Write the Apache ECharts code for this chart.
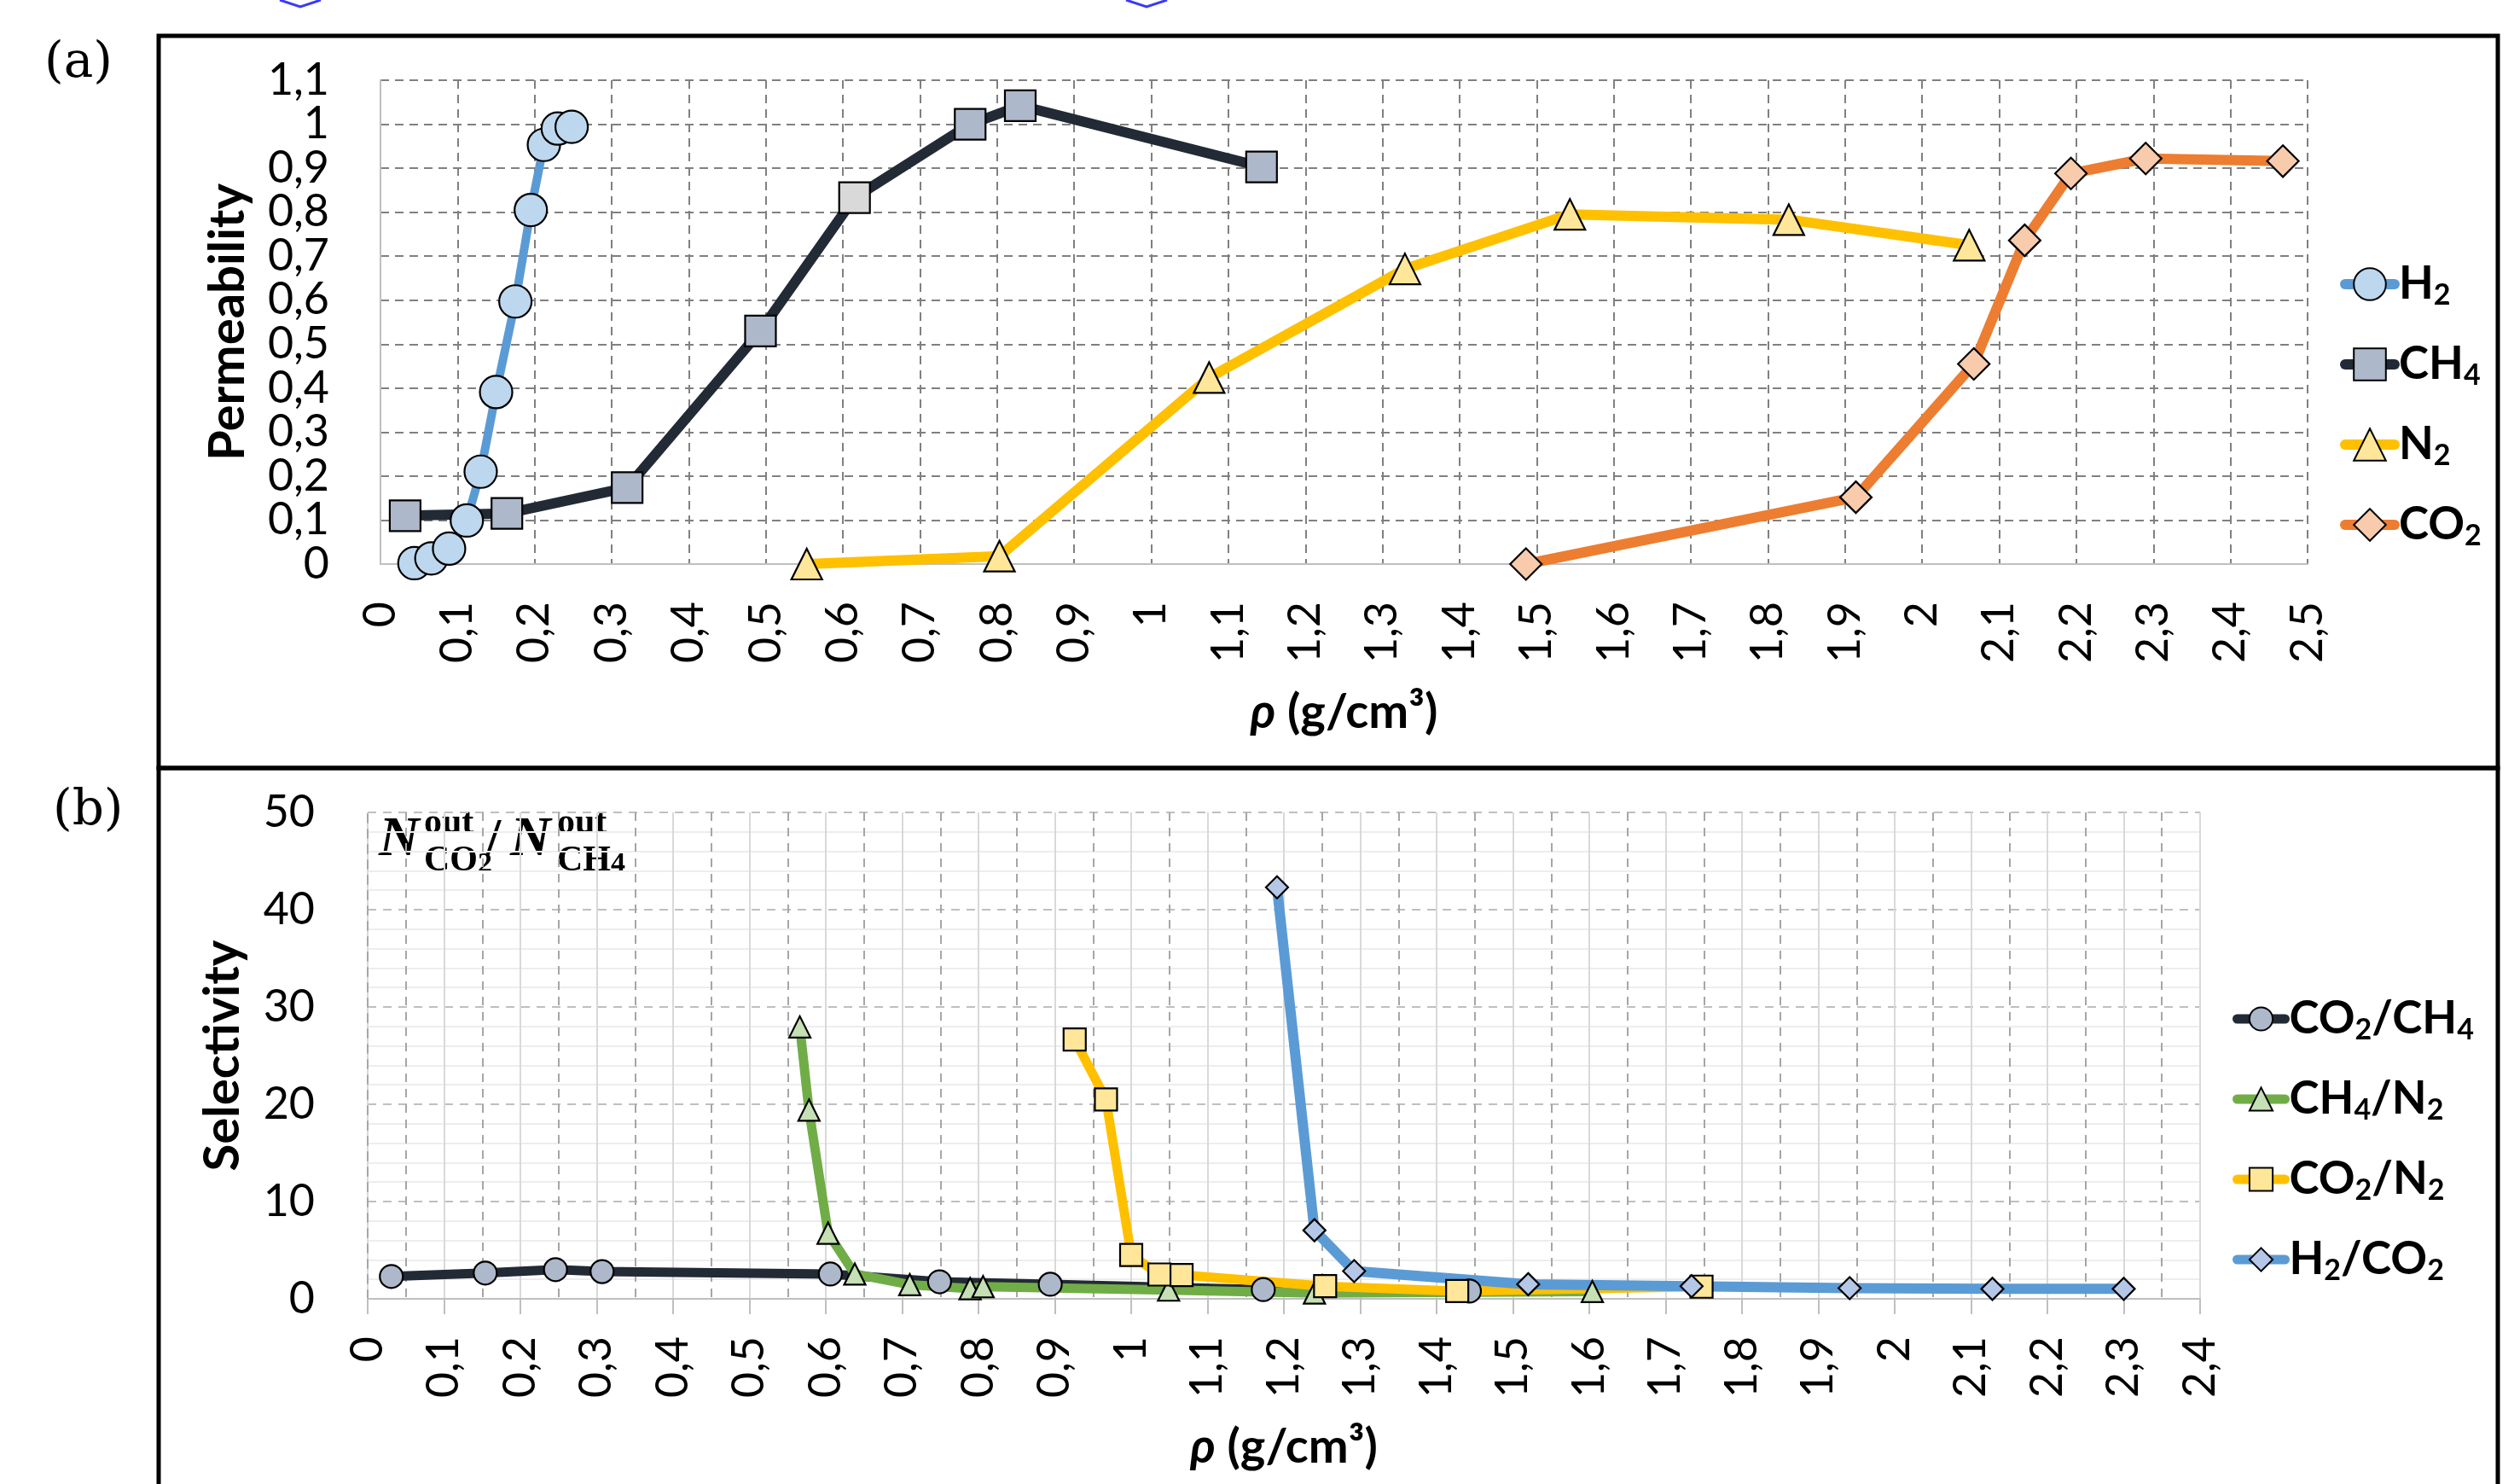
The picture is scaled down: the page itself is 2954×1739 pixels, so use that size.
<!DOCTYPE html>
<html><head><meta charset="utf-8">
<script src="https://cdn.jsdelivr.net/npm/echarts@6/dist/echarts.min.js"></script>
<style>html,body{margin:0;padding:0;background:#fff}#c{width:2954px;height:1739px}</style>
</head><body><div id="c"></div>
<script>
// ---------- Panel (a): Permeability vs density ----------
const h2X  = [0.044, 0.066, 0.089, 0.112, 0.130, 0.150, 0.175, 0.195, 0.212, 0.230, 0.248];
const h2Y  = [0.002, 0.013, 0.035, 0.099, 0.210, 0.391, 0.597, 0.805, 0.953, 0.990, 0.994];
const ch4X = [0.032, 0.164, 0.320, 0.493, 0.615, 0.765, 0.830, 1.143];
const ch4Y = [0.110, 0.115, 0.174, 0.530, 0.833, 1.000, 1.042, 0.903];
const ch4HighlightIndex = 4;
const n2X  = [0.553, 0.803, 1.075, 1.329, 1.543, 1.827, 2.061];
const n2Y  = [0.000, 0.018, 0.424, 0.671, 0.795, 0.783, 0.725];
const co2X = [1.486, 1.914, 2.067, 2.133, 2.193, 2.290, 2.468];
const co2Y = [0.000, 0.152, 0.455, 0.736, 0.888, 0.922, 0.916];
const seriesNamesA = ['H2', 'CH4', 'N2', 'CO2'];

// ---------- Panel (b): Selectivity vs density ----------
const co2ch4X = [0.031, 0.154, 0.246, 0.307, 0.606, 0.749, 0.894, 1.173, 1.443];
const co2ch4Y = [2.30, 2.65, 3.00, 2.80, 2.55, 1.75, 1.50, 0.95, 0.80];
const ch4n2X  = [0.566, 0.578, 0.603, 0.638, 0.710, 0.789, 0.806, 1.049, 1.240, 1.604];
const ch4n2Y  = [27.95, 19.40, 6.75, 2.55, 1.45, 1.05, 1.25, 0.90, 0.60, 0.75];
const co2n2X  = [0.926, 0.967, 1.000, 1.037, 1.066, 1.254, 1.427, 1.747];
const co2n2Y  = [26.65, 20.50, 4.50, 2.50, 2.45, 1.30, 0.80, 1.25];
const h2co2X  = [1.191, 1.240, 1.292, 1.520, 1.734, 1.941, 2.128, 2.300];
const h2co2Y  = [42.30, 7.05, 2.85, 1.50, 1.30, 1.10, 1.02, 1.02];
const seriesNamesB = ['CO2/CH4', 'CH4/N2', 'CO2/N2', 'H2/CO2'];

// axis ranges / ticks
const xAxisA = {min: 0, max: 2.5, interval: 0.1};
const yAxisA = {min: 0, max: 1.1, interval: 0.1};
const xAxisB = {min: 0, max: 2.4, interval: 0.1};
const yAxisB = {min: 0, max: 50, interval: 10};

const FONT = 'Lato, "DejaVu Sans", sans-serif';
const SERIF = '"DejaVu Serif", "Liberation Serif", serif';
const MSERIF = '"Liberation Serif", "DejaVu Serif", serif';

function pairs(xs, ys) { return xs.map((x, i) => [x, ys[i]]); }
function commaFmt(v) { return String(Math.round(v * 10) / 10).replace('.', ','); }
function endsOnlyFmt(v) {
  return (Math.abs(v - yAxisA.min) < 1e-9 || Math.abs(v - yAxisA.max) < 1e-9) ? commaFmt(v) : '';
}
function subFmt(name) { return name.replace(/(\d)/g, '{s|$1}'); }

const ch4Data = pairs(ch4X, ch4Y).map((p, i) =>
  i === ch4HighlightIndex ? {value: p, itemStyle: {color: '#D9D9D9'}} : p);

function lineSeries(name, data, xi, lineColor, fill, symbol, size, width, z) {
  return {
    name, type: 'line', xAxisIndex: xi, yAxisIndex: xi, data,
    symbol, symbolSize: size, showAllSymbol: true, z: z || 2,
    lineStyle: {color: lineColor, width: width, cap: 'round', join: 'round'},
    itemStyle: {color: fill, borderColor: '#000', borderWidth: 2.2},
    emphasis: {disabled: true}, animation: false
  };
}

const legendText = {
  fontFamily: FONT, fontSize: 53, fontWeight: 'bold', color: '#000', lineHeight: 60,
  rich: {s: {fontFamily: FONT, fontSize: 34, fontWeight: 'bold', color: '#000', lineHeight: 20, verticalAlign: 'bottom'}}
};

const option = {
  animation: false,
  backgroundColor: '#fff',
  textStyle: {fontFamily: FONT},
  grid: [
    {left: 446, top: 94, width: 2259, height: 567},
    {left: 431, top: 952, width: 2148, height: 570}
  ],
  xAxis: [
    {
      gridIndex: 0, type: 'value', min: xAxisA.min, max: xAxisA.max, interval: xAxisA.interval,
      axisLine: {show: true, lineStyle: {color: '#BFBFBF', width: 2}},
      axisTick: {show: false},
      axisLabel: {rotate: 90, margin: 44, fontSize: 52, color: '#000', fontFamily: FONT, formatter: commaFmt, showMinLabel: true, showMaxLabel: true, hideOverlap: false},
      splitLine: {show: true, lineStyle: {color: '#808080', type: [10, 7], width: 2}},
      name: '{i|ρ} (g/cm³)', nameLocation: 'middle', nameGap: 146,
      nameTextStyle: {fontSize: 56, fontWeight: 'bold', color: '#000', fontFamily: FONT,
        rich: {i: {fontSize: 56, fontWeight: 'bold', fontStyle: 'italic', color: '#000', fontFamily: FONT}}}
    },
    {
      gridIndex: 1, type: 'value', min: xAxisB.min, max: xAxisB.max, interval: xAxisB.interval,
      axisLine: {show: true, lineStyle: {color: '#BFBFBF', width: 2}},
      axisTick: {show: true, length: 18, lineStyle: {color: '#BFBFBF', width: 2}},
      axisLabel: {rotate: 90, margin: 44, fontSize: 52, color: '#000', fontFamily: FONT, formatter: commaFmt, showMinLabel: true, showMaxLabel: true, hideOverlap: false},
      splitLine: {show: true, lineStyle: {color: '#D9D9D9', width: 2}},
      minorTick: {show: false, splitNumber: 2},
      minorSplitLine: {show: true, lineStyle: {color: '#A6A6A6', type: [10, 8], width: 2}},
      name: '{i|ρ} (g/cm³)', nameLocation: 'middle', nameGap: 146,
      nameTextStyle: {fontSize: 56, fontWeight: 'bold', color: '#000', fontFamily: FONT,
        rich: {i: {fontSize: 56, fontWeight: 'bold', fontStyle: 'italic', color: '#000', fontFamily: FONT}}}
    }
  ],
  yAxis: [
    {
      gridIndex: 0, type: 'value', position: 'left', min: yAxisA.min, max: yAxisA.max, interval: yAxisA.interval,
      axisLine: {show: true, lineStyle: {color: '#BFBFBF', width: 2}},
      axisTick: {show: false},
      axisLabel: {margin: 60, fontSize: 52, color: '#000', fontFamily: FONT, formatter: commaFmt,
        showMinLabel: false, showMaxLabel: false, hideOverlap: false},
      splitLine: {show: true, lineStyle: {color: '#808080', type: [10, 7], width: 2}},
      name: 'Permeability', nameLocation: 'middle', nameGap: 150,
      nameTextStyle: {fontSize: 58, fontWeight: 'bold', color: '#000', fontFamily: FONT}
    },
    {
      gridIndex: 1, type: 'value', min: yAxisB.min, max: yAxisB.max, interval: yAxisB.interval,
      axisLine: {show: true, lineStyle: {color: '#A6A6A6', type: [10, 8], width: 2}},
      axisTick: {show: false},
      axisLabel: {margin: 62, fontSize: 52, color: '#000', fontFamily: FONT, showMinLabel: true, showMaxLabel: true},
      splitLine: {show: true, lineStyle: {color: '#BFBFBF', type: [10, 8], width: 2}},
      minorTick: {show: false, splitNumber: 5},
      minorSplitLine: {show: true, lineStyle: {color: '#EDEDED', width: 2}},
      name: 'Selectivity', nameLocation: 'middle', nameGap: 141,
      nameTextStyle: {fontSize: 58, fontWeight: 'bold', color: '#000', fontFamily: FONT}
    },
    {
      // companion axis on panel (a) carrying only the end labels (0 and 1,1)
      gridIndex: 0, type: 'value', position: 'left', offset: 0, min: yAxisA.min, max: yAxisA.max, interval: yAxisA.interval,
      axisLine: {show: false}, axisTick: {show: false}, splitLine: {show: false},
      axisLabel: {margin: 60, fontSize: 52, color: '#000', fontFamily: FONT, formatter: endsOnlyFmt,
        showMinLabel: true, showMaxLabel: true, hideOverlap: false}
    }
  ],
  legend: [
    {
      data: seriesNamesA, orient: 'vertical', left: 2738, top: 298, itemWidth: 58, itemHeight: 47,
      itemGap: 34, selectedMode: false, formatter: subFmt, textStyle: legendText,
      lineStyle: {width: 12, cap: 'round'}
    },
    {
      data: seriesNamesB, orient: 'vertical', left: 2612, top: 1159, itemWidth: 56, itemHeight: 34,
      itemGap: 34, selectedMode: false, formatter: subFmt, textStyle: legendText,
      lineStyle: {width: 11, cap: 'round'}
    }
  ],
  series: [
    lineSeries('CH4', ch4Data, 0, '#222A35', '#ADB9CA', 'rect', 36, 12, 2),
    lineSeries('N2', pairs(n2X, n2Y), 0, '#FFC000', '#FFE699', 'triangle', 36, 12, 2),
    lineSeries('CO2', pairs(co2X, co2Y), 0, '#ED7D31', '#F8CBAD', 'diamond', 37, 12, 2),
    lineSeries('H2', pairs(h2X, h2Y), 0, '#5B9BD5', '#BDD7EE', 'circle', 38, 10, 3),
    lineSeries('CO2/CH4', pairs(co2ch4X, co2ch4Y), 1, '#222A35', '#ADB9CA', 'circle', 27, 11, 2),
    lineSeries('CH4/N2', pairs(ch4n2X, ch4n2Y), 1, '#70AD47', '#C5E0B4', 'triangle', 25, 11, 2),
    lineSeries('CO2/N2', pairs(co2n2X, co2n2Y), 1, '#FFC000', '#FFE699', 'rect', 26, 11, 2),
    lineSeries('H2/CO2', pairs(h2co2X, h2co2Y), 1, '#5B9BD5', '#B4C7E7', 'diamond', 26, 12, 2)
  ],
  graphic: [
    {type: 'rect', shape: {x: 186, y: 42, width: 2742, height: 858}, style: {fill: 'none', stroke: '#000', lineWidth: 5}, silent: true},
    {type: 'rect', shape: {x: 186, y: 900, width: 2742, height: 900}, style: {fill: 'none', stroke: '#000', lineWidth: 5}, silent: true},
    {type: 'polyline', shape: {points: [[328, 0], [352, 8], [376, 0]]}, style: {fill: 'none', stroke: '#3B3BF5', lineWidth: 3}, silent: true},
    {type: 'polyline', shape: {points: [[1320, 0], [1344, 8], [1368, 0]]}, style: {fill: 'none', stroke: '#3B3BF5', lineWidth: 3}, silent: true},
    {type: 'text', left: 52, top: 46, style: {text: '(a)', font: '58px ' + SERIF, fill: '#000'}, silent: true},
    {type: 'text', left: 62, top: 922, style: {text: '(b)', font: '58px ' + SERIF, fill: '#000'}, silent: true},
    // annotation N_CO2^out / N_CH4^out
    {type: 'text', left: 444, top: 952, style: {text: 'N', font: 'italic bold 66px ' + MSERIF, fill: '#000'}, silent: true},
    {type: 'text', left: 497, top: 944, style: {text: 'out', font: 'bold 42px ' + MSERIF, fill: '#000'}, silent: true},
    {type: 'text', left: 497, top: 988, style: {text: 'CO{s|2}', font: 'bold 42px ' + MSERIF, fill: '#000', rich: {s: {font: 'bold 34px ' + MSERIF, fill: '#000', verticalAlign: 'bottom', lineHeight: 22}}}, silent: true},
    {type: 'text', left: 570, top: 954, style: {text: '/', font: 'bold 62px ' + MSERIF, fill: '#000'}, silent: true},
    {type: 'text', left: 598, top: 952, style: {text: 'N', font: 'italic bold 66px ' + MSERIF, fill: '#000'}, silent: true},
    {type: 'text', left: 653, top: 944, style: {text: 'out', font: 'bold 42px ' + MSERIF, fill: '#000'}, silent: true},
    {type: 'text', left: 653, top: 988, style: {text: 'CH{s|4}', font: 'bold 42px ' + MSERIF, fill: '#000', rich: {s: {font: 'bold 34px ' + MSERIF, fill: '#000', verticalAlign: 'bottom', lineHeight: 22}}}, silent: true}
  ]
};

const chart = echarts.init(document.getElementById('c'), null, {renderer: 'canvas'});
chart.setOption(option);
</script>
</body></html>
